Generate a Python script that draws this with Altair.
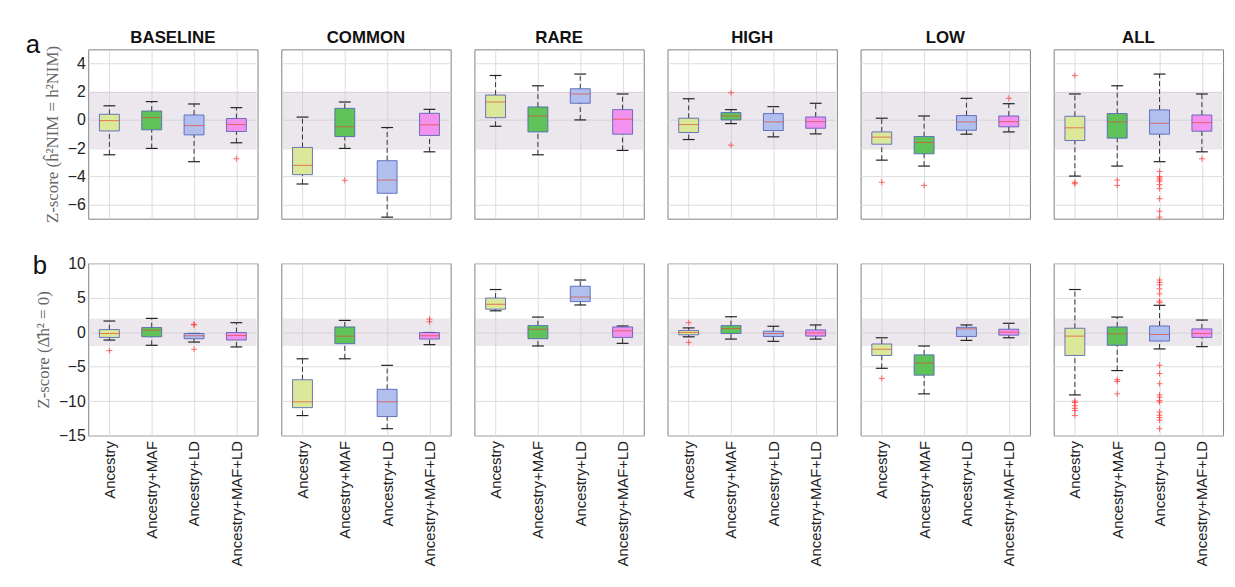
import altair as alt
import pandas as pd

PANELS = ["BASELINE", "COMMON", "RARE", "HIGH", "LOW", "ALL"]
CATEGORIES = ["Ancestry", "Ancestry+MAF", "Ancestry+LD", "Ancestry+MAF+LD"]
POSITIONS = [1, 2, 3, 4]
FILLS = ["#dbe899", "#5fc35a", "#b0bfee", "#f291ee"]
ROW_LETTERS = ["a", "b"]
Y_TITLES = ["Z-score (ĥ²NIM = h²NIM)", "Z-score (Δ̂h² = 0)"]
BAND = [-2, 2]

A_DOMAIN = [-7, 5]
A_TICKS = [-6, -4, -2, 0, 2, 4]
B_DOMAIN = [-15, 10]
B_TICKS = [-15, -10, -5, 0, 5, 10]

# ---- row a: Z-score (h2 NIM) ----
A_LO = [[-2.47, -2.02, -2.96, -1.62], [-4.54, -2.02, -6.89, -2.26], [-0.45, -2.47, 0.00, -2.16],
        [-1.39, -0.26, -1.20, -0.99], [-2.85, -3.27, -1.01, -0.85], [-3.98, -3.27, -2.96, -2.26]]
A_Q1 = [[-0.78, -0.70, -1.06, -0.82], [-3.88, -1.18, -5.20, -1.10], [0.16, -0.85, 1.18, -1.01],
        [-0.89, 0.00, -0.75, -0.59], [-1.72, -2.40, -0.73, -0.49], [-1.46, -1.29, -1.01, -0.80]]
A_MED = [[-0.05, 0.16, -0.40, -0.33], [-3.22, -0.49, -4.26, -0.35], [1.27, 0.28, 1.84, 0.05],
         [-0.33, 0.28, -0.14, -0.12], [-1.22, -1.60, -0.14, -0.12], [-0.56, -0.14, -0.24, -0.19]]
A_Q3 = [[0.40, 0.63, 0.35, 0.10], [-1.95, 0.82, -2.89, 0.47], [1.76, 0.92, 2.21, 0.73],
        [0.12, 0.52, 0.45, 0.21], [-0.85, -1.18, 0.31, 0.28], [0.26, 0.45, 0.71, 0.35]]
A_HI = [[1.00, 1.30, 1.13, 0.87], [0.20, 1.27, -0.54, 0.75], [3.15, 2.42, 3.25, 1.84],
        [1.50, 0.73, 0.94, 1.18], [0.12, 0.28, 1.53, 1.15], [1.84, 2.42, 3.25, 1.84]]
A_OUT = [
    [(4, -2.75)],
    [(2, -4.28)],
    [],
    [(2, 1.93), (2, -1.79)],
    [(1, -4.42), (2, -4.64), (4, 1.53)],
    [(1, 3.15), (1, -4.42), (1, -4.52), (2, -4.26), (2, -4.64), (3, -3.65), (3, -4.02), (3, -4.12),
     (3, -4.24), (3, -4.35), (3, -4.59), (3, -4.87), (3, -5.58), (3, -6.47), (3, -6.89), (4, -2.75)],
]

# ---- row b: Z-score (delta h2 = 0) ----
B_LO = [[-1.14, -1.90, -1.43, -2.14], [-12.1, -3.86, -14.0, -1.81], [3.10, -2.00, 3.95, -1.62],
        [-0.67, -1.00, -1.33, -1.00], [-5.24, -8.95, -1.19, -0.81], [-9.10, -5.57, -2.43, -2.10]]
B_Q1 = [[-0.76, -0.67, -0.95, -1.14], [-10.95, -1.67, -12.24, -1.00], [3.33, -0.95, 4.43, -0.76],
        [-0.38, -0.19, -0.62, -0.57], [-3.38, -6.24, -0.62, -0.43], [-3.38, -1.90, -1.29, -0.76]]
B_MED = [[-0.19, 0.29, -0.52, -0.48], [-10.1, -0.57, -10.1, -0.52], [4.05, 0.43, 5.10, 0.19],
         [-0.05, 0.52, -0.19, -0.10], [-2.48, -4.48, 0.48, 0.00], [-0.57, -0.24, -0.33, -0.19]]
B_Q3 = [[0.38, 0.67, -0.19, -0.05], [-6.90, 0.76, -8.29, -0.05], [4.95, 0.95, 6.67, 0.76],
        [0.24, 0.95, 0.14, 0.33], [-1.71, -3.29, 0.71, 0.43], [0.57, 0.76, 0.90, 0.48]]
B_HI = [[1.62, 2.00, -0.19, 1.38], [-3.86, 1.71, -4.81, -0.05], [6.19, 2.19, 7.57, 0.90],
        [0.62, 2.24, 0.86, 1.05], [-0.81, -2.00, 1.05, 1.29], [6.19, 2.19, 3.90, 1.76]]
B_OUT = [
    [(1, -2.67), (3, 1.14), (3, 1.05), (3, -2.48)],
    [(4, 1.90), (4, 1.52)],
    [],
    [(1, 1.38), (1, -1.48)],
    [(1, -6.71)],
    [(1, -10.0), (1, -10.2), (1, -10.67), (1, -11.05), (1, -11.38), (1, -12.1), (2, -6.9), (2, -7.14),
     (2, -8.95), (3, 7.57), (3, 7.24), (3, 6.86), (3, 6.29), (3, 5.57), (3, 4.52), (3, 4.29), (3, -4.81),
     (3, -6.0), (3, -7.48), (3, -9.1), (3, -9.43), (3, -9.9), (3, -10.14), (3, -11.57), (3, -12.05),
     (3, -12.38), (3, -12.76), (3, -14.0)],
]

W = 171
HEIGHTS = [171, 174]
BOX_HALF = 0.235
CAP_HALF = 0.14
LABEL_EXPR = "[" + ",".join("'%s'" % c for c in CATEGORIES) + "][datum.value - 1]"


def panel(row, j, lo, q1, med, q3, hi, outs, domain, ticks):
    first = j == 0
    h = HEIGHTS[row]
    stats = pd.DataFrame({"pos": POSITIONS, "cat": CATEGORIES, "lo": lo[j], "q1": q1[j],
                          "med": med[j], "q3": q3[j], "hi": hi[j]})
    xs = alt.Scale(domain=[0.5, 4.5], nice=False, zero=False)
    ys = alt.Scale(domain=domain, nice=False, zero=False)
    yaxis = alt.Axis(values=ticks, grid=True, ticks=False, domain=False, labels=first,
                     labelPadding=3, labelOverlap=False, labelFlush=False,
                     title=Y_TITLES[row] if first else None, titlePadding=6)
    xaxis = alt.Axis(values=POSITIONS, grid=True, ticks=False, domain=False, labels=(row == 1),
                     labelAngle=-90, labelExpr=LABEL_EXPR, labelFontSize=15, labelPadding=5,
                     labelOverlap=False, labelFlush=False, title=None)

    def X(f):
        return alt.X(f, scale=xs, axis=xaxis)

    def Y(f):
        return alt.Y(f, scale=ys, axis=yaxis)

    base = alt.Chart(stats).transform_calculate(
        bl="datum.pos - %f" % BOX_HALF, br="datum.pos + %f" % BOX_HALF,
        cl="datum.pos - %f" % CAP_HALF, cr="datum.pos + %f" % CAP_HALF)

    band = alt.Chart(pd.DataFrame({"b0": [BAND[0]], "b1": [BAND[1]]})).mark_rect(
        color="#cfc3d3", opacity=0.4).encode(
        x=alt.value(1), x2=alt.value(W - 1), y=Y("b0:Q"), y2="b1:Q")

    wlow = base.mark_rule(color="#333333", strokeDash=[5, 3], strokeWidth=1).encode(
        x=X("pos:Q"), y=Y("lo:Q"), y2="q1:Q")
    whigh = base.mark_rule(color="#333333", strokeDash=[5, 3], strokeWidth=1).encode(
        x=X("pos:Q"), y=Y("q3:Q"), y2="hi:Q")
    caps = base.transform_fold(["lo", "hi"], as_=["k", "v"]).mark_rule(
        color="#222222", strokeWidth=1.2).encode(x=X("cl:Q"), x2="cr:Q", y=Y("v:Q"))
    boxes = base.mark_rect(stroke="#4f5fb8", strokeWidth=1, strokeOpacity=0.85).encode(
        x=X("bl:Q"), x2="br:Q", y=Y("q1:Q"), y2="q3:Q",
        fill=alt.Fill("cat:N", scale=alt.Scale(domain=CATEGORIES, range=FILLS), legend=None))
    meds = base.mark_rule(color="#e8472e", opacity=0.7, strokeWidth=1).encode(
        x=X("bl:Q"), x2="br:Q", y=Y("med:Q"))
    layers = [band, wlow, whigh, caps, boxes, meds]
    if outs[j]:
        odf = pd.DataFrame({"pos": [o[0] for o in outs[j]], "v": [o[1] for o in outs[j]]})
        pts = alt.Chart(odf).mark_point(shape="M-1,0L1,0M0,-1L0,1", filled=False,
                                         color="#ff2a2a", size=36, strokeWidth=1).encode(
            x=X("pos:Q"), y=Y("v:Q"))
        layers.append(pts)
    if first:
        letter = alt.Chart(pd.DataFrame({"t": [ROW_LETTERS[row]]})).mark_text(
            font="Liberation Sans", fontSize=26, align="left", baseline="alphabetic",
            color="#111111").encode(
            text="t:N", x=alt.value(-63 if row == 0 else -56), y=alt.value(4 if row == 0 else 11))
        layers.append(letter)
    if row == 0:
        ttl = alt.Chart(pd.DataFrame({"t": [PANELS[j]]})).mark_text(
            font="Liberation Sans", fontSize=17, fontWeight="bold", align="center",
            baseline="alphabetic", color="#111111").encode(
            text="t:N", x=alt.value(W / 2), y=alt.value(-6))
        layers.append(ttl)
    return alt.layer(*layers).properties(width=W, height=h)


charts = []
for j in range(6):
    charts.append(panel(0, j, A_LO, A_Q1, A_MED, A_Q3, A_HI, A_OUT, A_DOMAIN, A_TICKS))
for j in range(6):
    charts.append(panel(1, j, B_LO, B_Q1, B_MED, B_Q3, B_HI, B_OUT, B_DOMAIN, B_TICKS))

chart = alt.concat(*charts, columns=6, spacing={"row": 29, "column": 22}, align="each",
                   padding={"left": 17, "top": 18, "right": 3, "bottom": 2}).configure_view(
    stroke="#7f7f7f", strokeWidth=1).configure_axis(
    labelFont="Liberation Sans", labelFontSize=16, labelColor="#222222",
    titleFont="Liberation Serif", titleFontSize=17, titleColor="#666666", titleFontWeight="normal",
    gridColor="#dddddd", gridWidth=1)

chart.save("out.html", embed_options={"renderer": "svg", "actions": False})
